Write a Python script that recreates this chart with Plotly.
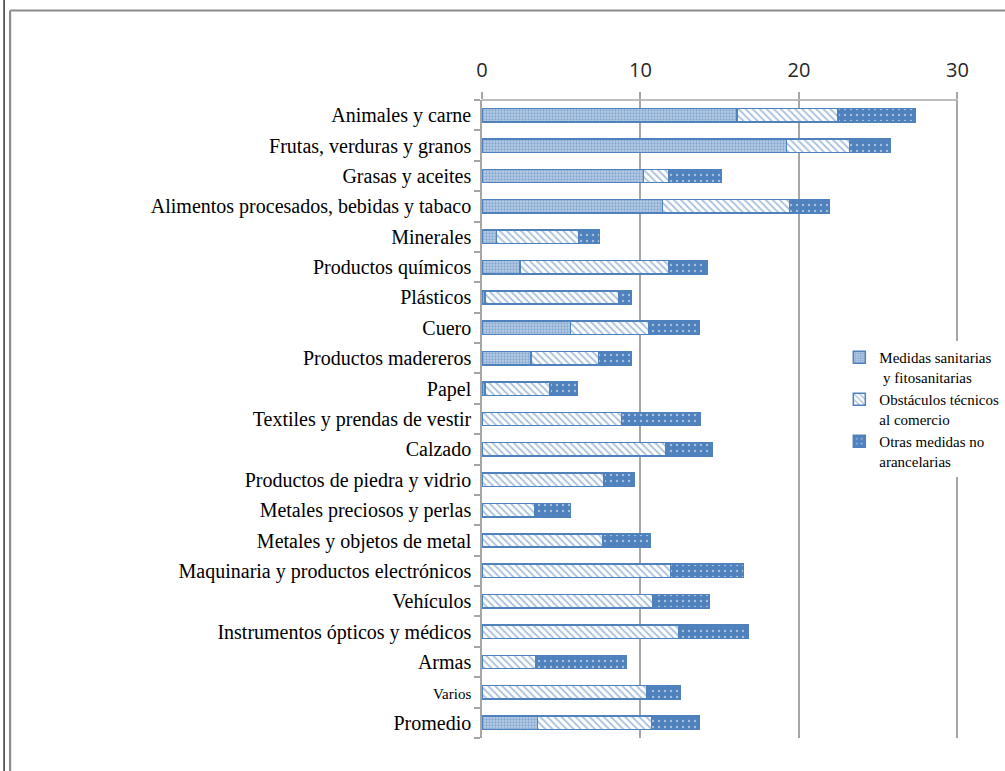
import plotly.graph_objects as go

categories = [
    "Animales y carne", "Frutas, verduras y granos", "Grasas y aceites",
    "Alimentos procesados, bebidas y tabaco", "Minerales", "Productos químicos",
    "Plásticos", "Cuero", "Productos madereros", "Papel",
    "Textiles y prendas de vestir", "Calzado", "Productos de piedra y vidrio",
    "Metales preciosos y perlas", "Metales y objetos de metal",
    "Maquinaria y productos electrónicos", "Vehículos",
    "Instrumentos ópticos y médicos", "Armas", "Varios", "Promedio",
]
sanitarias = [16.1, 19.2, 10.2, 11.4, 0.9, 2.4, 0.2, 5.6, 3.1, 0.2, 0, 0, 0, 0, 0, 0, 0, 0, 0, 0, 3.5]
obstaculos = [6.35, 4.0, 1.6, 8.0, 5.2, 9.4, 8.4, 4.9, 4.25, 4.1, 8.8, 11.6, 7.7, 3.3, 7.6, 11.9, 10.8, 12.4, 3.4, 10.4, 7.2]
otras = [4.9, 2.55, 3.3, 2.5, 1.3, 2.4, 0.8, 3.2, 2.05, 1.7, 5.0, 2.95, 1.9, 2.3, 3.0, 4.6, 3.55, 4.4, 5.7, 2.1, 3.0]
series_names = ["Medidas sanitarias<br>\u00a0y fitosanitarias",
                "Obstáculos técnicos<br>al comercio",
                "Otras medidas no<br>arancelarias"]
x_ticks = [0, 10, 20, 30]
small_labels = ["Varios"]

BLUE = "#4F81BD"
W, H = 1005, 771
X_MAX = 30.1
ML, MT, MB = 482, 100, 33
PX_PER_UNIT = 475 / 30
PW = PX_PER_UNIT * X_MAX
MR = W - ML - PW
PH = H - MT - MB

ticktext = [f"<span style='font-size:15px'>{c}</span>" if c in small_labels else c
            for c in categories]

fig = go.Figure()
styles = [
    dict(color="#B9CDE5", pattern=dict(shape=".", fgcolor=BLUE, bgcolor="#B9CDE5",
                                       size=3, solidity=0.45)),
    dict(color="white", pattern=dict(shape="\\", fgcolor=BLUE, bgcolor="white",
                                     size=5, solidity=0.35)),
    dict(color=BLUE, pattern=dict(shape=".", fgcolor="white", bgcolor=BLUE,
                                  size=6, solidity=0.12)),
]
for name, vals, st in zip(series_names, [sanitarias, obstaculos, otras], styles):
    fig.add_trace(go.Bar(
        y=categories, x=vals, name=name, orientation="h",
        marker=dict(color=st["color"], pattern=st["pattern"],
                    line=dict(color=BLUE, width=1.5)),
    ))

fig.update_layout(
    width=W, height=H, barmode="stack", bargap=0.56,
    paper_bgcolor="white", plot_bgcolor="white",
    margin=dict(l=ML, r=MR, t=MT, b=MB, autoexpand=False),
    font=dict(family="Liberation Serif", color="black"),
    xaxis=dict(side="top", range=[0, X_MAX], tickvals=x_ticks,
               showgrid=True, gridcolor="#A6A6A6", gridwidth=1.5,
               showline=False,
               ticks="outside", ticklen=7, tickcolor="#A6A6A6", tickwidth=1.5,
               ticklabelstandoff=7, zeroline=False,
               tickfont=dict(family="Open Sans", size=20, color="#262626")),
    yaxis=dict(autorange="reversed", tickmode="array", tickvals=categories,
               ticktext=ticktext, tickson="boundaries",
               showline=True, linecolor="#A6A6A6", linewidth=1.5,
               ticks="outside", ticklen=6, tickcolor="#A6A6A6", tickwidth=1.5,
               ticklabelstandoff=5, showgrid=False,
               tickfont=dict(family="Liberation Serif", size=20, color="black")),
    legend=dict(x=(839 - ML) / PW, y=1 - (341 - MT) / PH, xanchor="left", yanchor="top",
                bgcolor="white", traceorder="normal", valign="top",
                font=dict(family="Liberation Serif", size=15, color="black"),
                tracegroupgap=0),
    showlegend=True,
)

# top axis line spanning 0..30 and outer frame decoration
def px_x(p):
    return (p - ML) / PW

def px_y(p):
    return 1 - (p - MT) / PH

fig.add_shape(type="line", xref="x", yref="paper", x0=0, x1=x_ticks[-1], y0=1, y1=1,
              line=dict(color="#A6A6A6", width=1.5))
fig.add_shape(type="line", xref="paper", yref="paper", x0=px_x(4.5), x1=px_x(4.5),
              y0=px_y(0), y1=px_y(H), line=dict(color="black", width=1.2))
fig.add_shape(type="line", xref="paper", yref="paper", x0=px_x(10.5), x1=px_x(10.5),
              y0=px_y(10.5), y1=px_y(H), line=dict(color="#8C8C8C", width=2.2))
fig.add_shape(type="line", xref="paper", yref="paper", x0=px_x(10.5), x1=px_x(W),
              y0=px_y(10.5), y1=px_y(10.5), line=dict(color="#8C8C8C", width=2.2))

fig.write_html("out.html", config={"displayModeBar": False},
               post_script="document.body.style.margin='0';document.body.style.overflow='hidden';")
